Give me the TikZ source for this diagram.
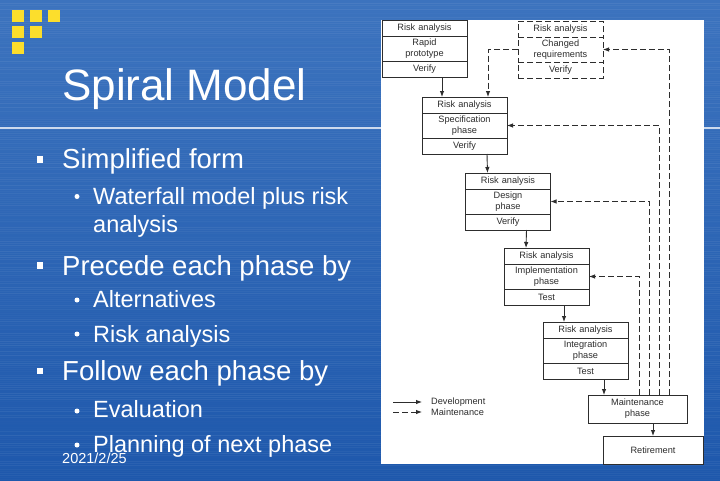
\documentclass[tikz,border=0pt]{standalone}
\usepackage{fontspec}
\setmainfont{Liberation Sans}
\usetikzlibrary{positioning,calc,arrows.meta}
\definecolor{slidetop}{RGB}{60,115,190}
\definecolor{slidebot}{RGB}{30,88,172}
\definecolor{logo}{RGB}{252,222,44}
\definecolor{ink}{RGB}{45,45,45}
\tikzset{
  cell/.style={draw=ink,fill=white,line width=0.9pt,minimum width=85pt,text width=82pt,align=center,inner sep=0pt,outer sep=0pt,text=ink,font=\fontsize{9.2}{11}\selectfont},
  risk/.style={cell,minimum height=16pt},
  body/.style={cell,minimum height=25pt},
  dcell/.style={dash pattern=on 6pt off 3pt},
  phase/.style={cell,minimum width=99pt,text width=95pt,minimum height=28pt},
  dev/.style={draw=ink,line width=0.9pt,-{Latex[length=6pt,width=4.5pt]}},
  mnt/.style={dev,dash pattern=on 6pt off 3pt},
  lgd/.style={anchor=west,inner sep=0pt,text=ink,font=\fontsize{9.2}{11}\selectfont},
  heading/.style={text=white,anchor=base west,inner sep=0pt,font=\fontsize{44}{50}\selectfont},
  lvlone/.style={text=white,anchor=base west,inner sep=0pt,font=\fontsize{27.5}{30}\selectfont},
  lvltwo/.style={lvlone,font=\fontsize{23.5}{28}\selectfont},
  bsq/.style={fill=white,minimum size=6.5pt,inner sep=0pt},
  bdot/.style={circle,fill=white,minimum size=5pt,inner sep=0pt},
}

\begin{document}
\begin{tikzpicture}[x=1pt,y=-1pt]
  \useasboundingbox (0,0) rectangle (720,480);
  \shade[top color=slidetop,bottom color=slidebot] (0,0) rectangle (720,480);
  \foreach \yy in {1,3,...,479}{
    \pgfmathsetmacro\op{0.07*rnd}
    \draw[white,opacity=\op,line width=1pt] (0,\yy) -- (720,\yy);
  }
  \foreach \cx/\cy in {18/16,35.5/16,53.5/16,18/32,35.5/32,18/47.5}
    \fill[logo] (\cx-6,\cy-6) rectangle (\cx+6,\cy+6);
  \draw[white,opacity=0.75,line width=1.2pt] (0,128) -- (720,128);

  % slide text
  \node[heading] (title) at (62,100) {Spiral Model};
  \node[bsq] (b1) at (40,159.5) {};
  \node[lvlone] (t1) at (62,168) {Simplified form};
  \node[bdot] (b11) at (77,196.5) {};
  \node[lvltwo] (t11) at (93,204) {Waterfall model plus risk};
  \node[lvltwo] (t11b) at (93,232) {analysis};
  \node[bsq] (b2) at (40,265.5) {};
  \node[lvlone] (t2) at (62,275) {Precede each phase by};
  \node[bdot] (b21) at (77,300) {};
  \node[lvltwo] (t21) at (93,307) {Alternatives};
  \node[bdot] (b22) at (77,334) {};
  \node[lvltwo] (t22) at (93,342) {Risk analysis};
  \node[bsq] (b3) at (40,371) {};
  \node[lvlone] (t3) at (62,380) {Follow each phase by};
  \node[bdot] (b31) at (77,411) {};
  \node[lvltwo] (t31) at (93,417) {Evaluation};
  \node[bdot] (b32) at (77,445) {};
  \node[lvltwo] (t32) at (93,452) {Planning of next phase};
  \node[text=white,anchor=base west,inner sep=0pt,font=\fontsize{14.5}{16}\selectfont] (date) at (62,463) {2021/2/25};

  % spiral diagram
  \fill[white] (381,20) rectangle (704,464);
  \node[risk] (protor) at (424.5,28) {Risk analysis};
  \node[body,below=0pt of protor] (proto) {Rapid\\prototype};
  \node[risk,below=0pt of proto] (protov) {Verify};

  \node[risk,dcell] (chgr) at (560.5,29) {Risk analysis};
  \node[body,dcell,below=0pt of chgr] (chg) {Changed\\requirements};
  \node[risk,dcell,below=0pt of chg] (chgv) {Verify};

  \node[risk] (specr) at (464.5,105) {Risk analysis};
  \node[body,below=0pt of specr] (spec) {Specification\\phase};
  \node[risk,below=0pt of spec] (specv) {Verify};

  \node[risk] (desr) at (508,181) {Risk analysis};
  \node[body,below=0pt of desr] (des) {Design\\phase};
  \node[risk,below=0pt of des] (desv) {Verify};

  \node[risk] (impr) at (546.5,256) {Risk analysis};
  \node[body,below=0pt of impr] (imp) {Implementation\\phase};
  \node[risk,below=0pt of imp] (impv) {Test};

  \node[risk] (intr) at (585.5,330) {Risk analysis};
  \node[body,below=0pt of intr] (int) {Integration\\phase};
  \node[risk,below=0pt of int] (intv) {Test};

  \node[phase] (maint) at (637.5,409) {Maintenance\\phase};
  \node[phase,minimum width=100pt] (ret) at (653,450) {Retirement};

  \draw[dev] ($(protov.south west)+(60,0)$) -- ($(specr.north west)+(20,0)$);
  \draw[dev] ($(specv.south west)+(65,0)$) -- ($(desr.north west)+(22,0)$);
  \draw[dev] ($(desv.south west)+(61,0)$) -- ($(impr.north west)+(22,0)$);
  \draw[dev] ($(impv.south west)+(60,0)$) -- ($(intr.north west)+(21,0)$);
  \draw[dev] ($(intv.south west)+(61,0)$) -- ($(maint.north west)+(16,0)$);
  \draw[dev] ($(maint.south west)+(65,0)$) -- ($(ret.north west)+(50,0)$);

  \draw[mnt] (chg.west) -| ($(specr.north west)+(66,0)$);
  \draw[mnt] ($(maint.north west)+(81,0)$) |- (chg.east);
  \draw[mnt] ($(maint.north west)+(71,0)$) |- (spec.east);
  \draw[mnt] ($(maint.north west)+(61,0)$) |- (des.east);
  \draw[mnt] ($(maint.north west)+(51,0)$) |- (imp.east);

  % legend
  \node[lgd] (ldev) at (431,402) {Development};
  \node[lgd] (lmnt) at (431,412) {Maintenance};
  \coordinate (ldevs) at (393,402);
  \coordinate (lmnts) at (393,412);
  \draw[dev] (ldevs) -- ([xshift=-9pt]ldev.west);
  \draw[mnt] (lmnts) -- ([xshift=-9pt]lmnt.west);
\end{tikzpicture}
\end{document}
